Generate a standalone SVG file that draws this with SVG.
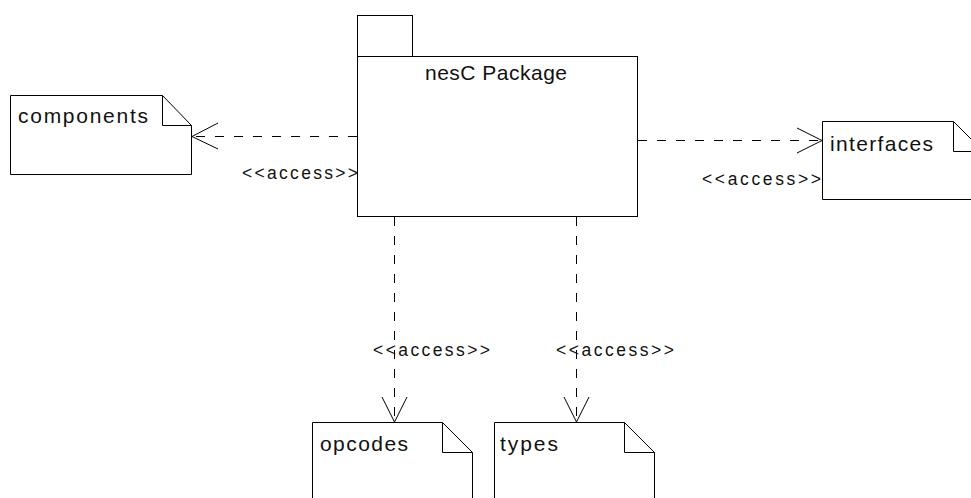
<svg xmlns="http://www.w3.org/2000/svg" width="971" height="498" viewBox="0 0 971 498">
<defs>
<style>
.shape{fill:#fff;stroke:#000;stroke-width:1}
.fold{fill:none;stroke:#000;stroke-width:1}
.dash{fill:none;stroke:#000;stroke-width:1;stroke-dasharray:9 10}
.head{fill:none;stroke:#000;stroke-width:1}
.name{font-family:"Liberation Sans",Arial,sans-serif;font-size:21px;fill:#111}
.lbl{font-family:"Liberation Sans",Arial,sans-serif;font-size:17.5px;fill:#111}
</style>
</defs>
<rect width="971" height="498" fill="#fff"/>
<g id="package">
<rect class="shape" x="357.5" y="15.5" width="55" height="41"/>
<rect class="shape" x="357.5" y="56.5" width="280" height="160"/>
<text class="name" x="425" y="80" textLength="142" lengthAdjust="spacing">nesC Package</text>
</g>
<g id="components">
<path class="shape" d="M10.5 95.5 H162.5 L191.5 125.5 V174.5 H10.5 Z"/>
<path class="fold" d="M162.5 95.5 V125.5 H191.5"/>
<text class="name" x="18" y="123" textLength="130" lengthAdjust="spacing">components</text>
</g>
<g id="interfaces">
<path class="shape" d="M822.5 121.5 H953.5 L983.5 151.5 V199.5 H822.5 Z"/>
<path class="fold" d="M953.5 121.5 V151.5 H983.5"/>
<text class="name" x="830" y="151" textLength="103" lengthAdjust="spacing">interfaces</text>
</g>
<g id="opcodes">
<path class="shape" d="M312.5 422.5 H442.5 L472.5 452.5 V510 H312.5 Z"/>
<path class="fold" d="M442.5 422.5 V452.5 H472.5"/>
<text class="name" x="320" y="451" textLength="88" lengthAdjust="spacing">opcodes</text>
</g>
<g id="types">
<path class="shape" d="M494.5 422.5 H624.5 L654.5 452.5 V510 H494.5 Z"/>
<path class="fold" d="M624.5 422.5 V452.5 H654.5"/>
<text class="name" x="500" y="451" textLength="58" lengthAdjust="spacing">types</text>
</g>
<g id="connectors">
<line class="dash" x1="357" y1="136.5" x2="193" y2="136.5"/>
<path class="head" d="M218 123 L192 136.5 L218 149"/>
<text class="lbl" x="242" y="179" textLength="116" lengthAdjust="spacing">&lt;&lt;access&gt;&gt;</text>
<line class="dash" x1="638" y1="140.5" x2="821" y2="140.5"/>
<path class="head" d="M797 128 L822 140.5 L797 153"/>
<text class="lbl" x="702" y="185" textLength="119" lengthAdjust="spacing">&lt;&lt;access&gt;&gt;</text>
<line class="dash" x1="394.5" y1="217" x2="394.5" y2="421"/>
<path class="head" d="M382 397 L394.5 422 L407 397"/>
<text class="lbl" x="373" y="356" textLength="117" lengthAdjust="spacing">&lt;&lt;access&gt;&gt;</text>
<line class="dash" x1="576.5" y1="217" x2="576.5" y2="421"/>
<path class="head" d="M564 397 L576.5 422 L589 397"/>
<text class="lbl" x="556" y="356" textLength="118" lengthAdjust="spacing">&lt;&lt;access&gt;&gt;</text>
</g>
</svg>
